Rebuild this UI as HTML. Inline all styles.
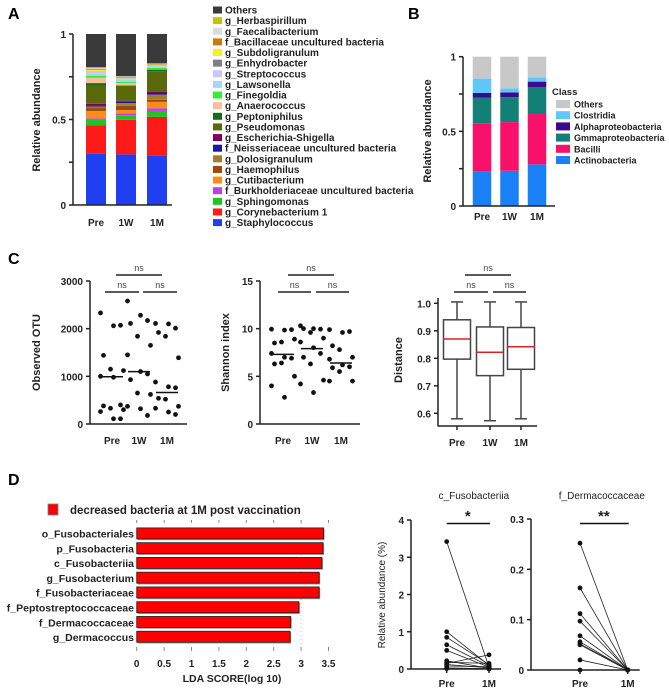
<!DOCTYPE html>
<html><head><meta charset="utf-8">
<style>
body{margin:0;background:#fff;}
svg{display:block;font-family:"Liberation Sans",Arial,sans-serif;}
.t{font-weight:bold;font-size:10px;fill:#222;}
.lg{font-weight:bold;font-size:10px;fill:#222;}
</style></head>
<body>
<svg id="fig" width="669" height="692" viewBox="0 0 669 692" xmlns="http://www.w3.org/2000/svg">
<text x="8" y="19" font-size="16" font-weight="bold">A</text>
<text x="408" y="19" font-size="16" font-weight="bold">B</text>
<text x="8" y="264" font-size="16" font-weight="bold">C</text>
<text x="8" y="485" font-size="16" font-weight="bold">D</text>
</svg>
<script>
// ---------- Panel A data ----------
const aGroups = ["Pre","1W","1M"];
const aTaxa = ["g_Staphylococcus","g_Corynebacterium 1","g_Sphingomonas","f_Burkholderiaceae uncultured bacteria","g_Cutibacterium","g_Haemophilus","g_Dolosigranulum","f_Neisseriaceae uncultured bacteria","g_Escherichia-Shigella","g_Pseudomonas","g_Peptoniphilus","g_Anaerococcus","g_Finegoldia","g_Lawsonella","g_Streptococcus","g_Enhydrobacter","g_Subdoligranulum","f_Bacillaceae uncultured bacteria","g_Faecalibacterium","g_Herbaspirillum","Others"];
const aColors = ["#1f3ff0","#ff1a1a","#22c322","#c040e0","#ff8c1a","#9b4a0a","#a87a30","#1a1a9a","#800060","#5a6a0a","#1a6a1a","#f5c09a","#33ee33","#a8d4f8","#c8c8f8","#808080","#f8f020","#d07810","#dcdcdc","#c8c010","#3a3a3a"];
const aPre = [0.300,0.167,0.031,0.009,0.043,0.017,0.009,0.008,0.008,0.107,0.014,0.031,0.012,0.012,0.012,0.002,0.009,0.006,0.008,0.000,0.195];
const a1W  = [0.296,0.202,0.027,0.011,0.019,0.025,0.016,0.008,0.006,0.088,0.002,0.013,0.008,0.012,0.006,0.002,0.004,0.004,0.004,0.000,0.247];
const a1M  = [0.287,0.228,0.035,0.016,0.037,0.012,0.030,0.010,0.008,0.119,0.010,0.002,0.008,0.010,0.006,0.002,0.002,0.004,0.002,0.000,0.172];
const aTicks = ["0","0.5","1"];
// ---------- Panel B data ----------
const bClasses = ["Actinobacteria","Bacilli","Gmmaproteobacteria","Alphaproteobacteria","Clostridia","Others"];
const bColors = ["#1a80f8","#f8106a","#138078","#3a0a8a","#5fc8f8","#c8c8c8"];
const bPre = [0.230,0.321,0.174,0.032,0.096,0.147];
const b1W  = [0.236,0.326,0.167,0.032,0.027,0.212];
const b1M  = [0.279,0.337,0.179,0.038,0.029,0.138];
// ---------- Panel C data ----------
const cGroups = ["Pre","1W","1M"];
const otuPre = [2330,2060,2070,1440,1150,1120,1000,980,400,380,330,300,260,110,110];
const otu1W  = [2580,2280,2170,2110,1840,1650,1450,1100,1050,930,650,620,370,320,180];
const otu1M  = [2110,2100,2010,1920,1840,1390,880,780,760,540,520,370,330,250,200];
const otuMed = [990,1100,660];
const otuTicks = [0,1000,2000,3000];
const shPre = [9.95,9.85,9.9,8.5,8.6,8.9,7.4,7.0,6.9,6.3,6.4,5.0,4.0,2.8];
const sh1W  = [10.3,10.0,9.95,10.0,9.6,9.0,8.6,8.0,7.4,7.0,6.3,4.6,4.2,3.3];
const sh1M  = [9.9,9.6,9.7,8.2,7.8,7.0,6.8,6.2,6.0,5.9,5.5,4.5,4.5];
const shMed = [7.3,7.9,6.4];
const shTicks = [0,5,10,15];
const dMin = [0.580,0.573,0.580];
const dQ1  = [0.797,0.737,0.760];
const dMed = [0.870,0.822,0.842];
const dQ3  = [0.940,0.914,0.912];
const dMax = [1.005,1.005,1.005];
const dTicks = ["0.6","0.7","0.8","0.9","1.0"];
// ---------- Panel D data ----------
const ldaNames = ["o_Fusobacteriales","p_Fusobacteria","c_Fusobacteriia","g_Fusobacterium","f_Fusobacteriaceae","f_Peptostreptococcaceae","f_Dermacoccaceae","g_Dermacoccus"];
const ldaScores = [3.41,3.40,3.38,3.33,3.33,2.96,2.81,2.80];
const ldaTicks = ["0","0.5","1","1.5","2","2.5","3","3.5"];
const fusoPre = [3.42,1.00,0.85,0.65,0.50,0.22,0.18,0.15,0.12,0.08,0.03,0.01];
const fuso1M  = [0.05,0.10,0.12,0.08,0.05,0.02,0.15,0.38,0.03,0.06,0.01,0.00];
const fusoTicks = [0,1,2,3,4];
const dermPre = [0.252,0.163,0.112,0.097,0.068,0.056,0.052,0.050,0.020,0.000];
const derm1M  = [0,0,0,0,0,0,0,0,0,0];
const dermTicks = ["0","0.1","0.2","0.3"];

const svg = document.getElementById('fig');
const NS = "http://www.w3.org/2000/svg";
function mk(tag, at, parent){
  const e = document.createElementNS(NS, tag);
  for (const k in at) e.setAttribute(k, at[k]);
  (parent||svg).appendChild(e);
  return e;
}
function txt(x,y,s,cls,anchor,extra){
  const e = mk('text',{x:x,y:y,class:cls||'t','text-anchor':anchor||'middle'});
  if(extra) for(const k in extra){
    if(k==='font-size') e.style.fontSize=extra[k]+'px';
    else if(k==='font-weight') e.style.fontWeight=extra[k];
    else if(k==='fill') e.style.fill=extra[k];
    else e.setAttribute(k,extra[k]);
  }
  e.textContent = s;
  return e;
}
function line(x1,y1,x2,y2,stroke,w){return mk('line',{x1:x1,y1:y1,x2:x2,y2:y2,stroke:stroke||'#222','stroke-width':w||1.5});}

// ===== Panel A =====
(function(){
  const y0=205,y1=34, ax=73;
  const ys=v=>y0-(y0-y1)*v;
  const xc=[96,126,157], bw=20;
  const data=[aPre,a1W,a1M];
  data.forEach((arr,gi)=>{
    let acc=0;
    arr.forEach((v,ti)=>{
      if(v<=0) return;
      const r=mk('rect',{x:xc[gi]-bw/2,y:ys(acc+v),width:bw,height:(ys(acc)-ys(acc+v)),fill:aColors[ti]});
      
      
      acc+=v;
    });
    const l=txt(xc[gi],226,aGroups[gi]);
    
    
  });
  line(ax,y1,ax,y0+0.5); line(ax,y0,172,y0);
  [0,0.25,0.5,0.75,1].forEach(v=>line(ax-4,ys(v),ax,ys(v)));
  aTicks.forEach((s,i)=>{const t=txt(ax-7,ys(i*0.5)+4,s,'t','end');
    
    });
  const yl=txt(40,120,'Relative abundance','t','middle',{transform:'rotate(-90 40 120)','font-size':'11'});
  
  
  for(let k=0;k<aTaxa.length;k++){
    const ti=aTaxa.length-1-k;
    const y=10+k*10.63;
    const r=mk('rect',{x:213,y:y-3.5,width:9,height:7,fill:aColors[ti]});
    
    
    const t=txt(225,y+3.5,aTaxa[ti],'lg','start');
    
    
  }
})();

// ===== Panel B =====
(function(){
  const y0=206,y1=56.7, ax=463;
  const ys=v=>y0-(y0-y1)*v;
  const xc=[482,509.5,537], bw=18.5;
  [bPre,b1W,b1M].forEach((arr,gi)=>{
    let acc=0;
    arr.forEach((v,ti)=>{
      const r=mk('rect',{x:xc[gi]-bw/2,y:ys(acc+v),width:bw,height:(ys(acc)-ys(acc+v)),fill:bColors[ti]});
      
      
      acc+=v;
    });
    const l=txt(xc[gi],220,aGroups[gi]);
    
    
  });
  line(ax,y1,ax,y0+0.5); line(ax,y0,555,y0);
  [0,0.25,0.5,0.75,1].forEach(v=>line(ax-4,ys(v),ax,ys(v)));
  aTicks.forEach((s,i)=>{const t=txt(ax-7,ys(i*0.5)+4,s,'t','end');
    
    });
  const yl=txt(431,131,'Relative abundance','t','middle',{transform:'rotate(-90 431 131)','font-size':'11'});
  
  
  const ct=txt(552,95,'Class','lg','start',{'font-size':'9.5'});
  
  
  for(let k=0;k<bClasses.length;k++){
    const ti=bClasses.length-1-k;
    const y=104+k*11.2;
    const r=mk('rect',{x:556,y:y-4,width:14,height:8,fill:bColors[ti]});
    
    
    const t=txt(574,y+3.5,bClasses[ti],'lg','start',{'font-size':'9'});
    
    
  }
})();

function brackets(pairs){
  pairs.forEach(p=>{
    line(p[0],p[2],p[1],p[2],'#222',1.5);
    const t=txt((p[0]+p[1])/2,p[2]-4,'ns','t','middle',{'font-weight':'normal','font-size':'9','fill':'#444'});
    
    
  });
}
function dotPlot(ax, xEnd, y0, y1, vmax, ticks, xc, series, meds, title, titleX){
  const ys=v=>y0-(y0-y1)*v/vmax;
  line(ax,y1,ax,y0+0.5); line(ax,y0,xEnd,y0);
  ticks.forEach(v=>{line(ax-4,ys(v),ax,ys(v));
    const t=txt(ax-7,ys(v)+4,String(v),'t','end');
    
    });
  series.forEach((arr,gi)=>{
    arr.forEach((v,i)=>{
      const off=((i%3)-1)*10+((i%2)?1.5:-1.5);
      const c=mk('circle',{cx:xc[gi]+off,cy:ys(v),r:2.4,fill:'#111'});
      
      
    });
    const m=line(xc[gi]-11,ys(meds[gi]),xc[gi]+11,ys(meds[gi]),'#111',1.5);
    
    
    const l=txt(xc[gi],y0+20,cGroups[gi]);
    
    
  });
  const yt=txt(titleX,(y0+y1)/2,title,'t','middle',{transform:'rotate(-90 '+titleX+' '+((y0+y1)/2)+')','font-size':'11'});
  
  
}
// ===== Panel C =====
dotPlot(90,187,424,281,3000,otuTicks,[112,139,167],[otuPre,otu1W,otu1M],otuMed,'Observed OTU',40);
brackets([[116,162,275],[105,139,292],[143,177,292]]);
dotPlot(260,360,424,281,15,shTicks,[283,312,341],[shPre,sh1W,sh1M],shMed,'Shannon index',229);
brackets([[288,334,275],[278,311,292],[316,349,292]]);
(function(){
  const ax=438, y0=426;
  const ys=v=>413.3-(v-0.6)*275;
  line(ax,298,ax,y0+0.5); line(ax,y0,537,y0);
  dTicks.forEach(s=>{const v=parseFloat(s);line(ax-4,ys(v),ax,ys(v));
    const t=txt(ax-7,ys(v)+4,s,'t','end');
    
    });
  const xc=[457,490,521], bw=27;
  xc.forEach((x,i)=>{
    const g=mk('g',{});
    
    
    mk('line',{x1:x,y1:ys(dMax[i]),x2:x,y2:ys(dQ3[i]),stroke:'#444','stroke-width':1.5},g);
    mk('line',{x1:x,y1:ys(dQ1[i]),x2:x,y2:ys(dMin[i]),stroke:'#444','stroke-width':1.5},g);
    mk('line',{x1:x-6,y1:ys(dMax[i]),x2:x+6,y2:ys(dMax[i]),stroke:'#444','stroke-width':1.5},g);
    mk('line',{x1:x-6,y1:ys(dMin[i]),x2:x+6,y2:ys(dMin[i]),stroke:'#444','stroke-width':1.5},g);
    mk('rect',{x:x-bw/2,y:ys(dQ3[i]),width:bw,height:ys(dQ1[i])-ys(dQ3[i]),fill:'#fff',stroke:'#444','stroke-width':1.5},g);
    mk('line',{x1:x-bw/2,y1:ys(dMed[i]),x2:x+bw/2,y2:ys(dMed[i]),stroke:'#e02020','stroke-width':1.5},g);
    line(x,y0,x,y0+4);
    const l=txt(x,446,cGroups[i]);
    
    
  });
  const yt=txt(402,360,'Distance','t','middle',{transform:'rotate(-90 402 360)','font-size':'11'});
  
  
  brackets([[465,511,275],[454,488,292],[493,526,292]]);
})();

// ===== Panel D LDA =====
(function(){
  const x0=136.7, per=54.8;
  const xs=v=>x0+per*v;
  const lr=mk('rect',{x:48,y:504,width:10,height:11,fill:'#ff0000',stroke:'#7080a0','stroke-width':0.8});
  
  
  const lt=txt(70,514,'decreased bacteria at 1M post vaccination','t','start',{'font-size':'11.5'});
  
  
  ldaTicks.forEach(s=>{const v=parseFloat(s);
    line(xs(v),520,xs(v),523,'#888',1); line(xs(v),647,xs(v),651,'#888',1);
    const t=txt(xs(v),667,s);
    
    });
  mk('line',{x1:xs(3),y1:523,x2:xs(3),y2:647,stroke:'#bbb','stroke-width':0.8,'stroke-dasharray':'1 3'});
  ldaNames.forEach((n,i)=>{
    const cy=533.7+i*14.76;
    mk('rect',{x:x0+1,y:cy-5,width:xs(ldaScores[i])-x0,height:11.5,fill:'#999'});
    const b=mk('rect',{x:x0,y:cy-5.8,width:xs(ldaScores[i])-x0,height:11,fill:'#ff0000',stroke:'#222','stroke-width':0.8});
    
    
    const t=txt(134,cy+4,n,'t','end',{'font-size':'10.5'});
    
    
  });
  const at=txt(232,682,'LDA SCORE(log 10)','t','middle',{'font-size':'10.5'});
  
  
})();

function paired(ax,y0,y1,vmax,ticks,labels,xPre,x1M,pre,post,title,star){
  const ys=v=>y0-(y0-y1)*v/vmax;
  line(ax,y1,ax,y0+0.5); line(ax,y0,x1M+12,y0);
  ticks.forEach((v,i)=>{line(ax-4,ys(v),ax,ys(v));
    const t=txt(ax-7,ys(v)+4,labels[i],'t','end');
    
    });
  pre.forEach((v,i)=>{
    const l=line(xPre,ys(v),x1M,ys(post[i]),'#222',0.8);
    
    
    const a=mk('circle',{cx:xPre,cy:ys(v),r:2.4,fill:'#111'});
    
    
    const b=mk('circle',{cx:x1M,cy:ys(post[i]),r:2.4,fill:'#111'});
    
    
  });
  line(xPre,y0,xPre,y0+4); line(x1M,y0,x1M,y0+4);
  [['Pre',xPre],['1M',x1M]].forEach(p=>{const t=txt(p[1],687,p[0]);
    
    });
  const tt=txt((xPre+x1M)/2+ (ax<450?6:-2),499,title,'t','middle',{'font-weight':'normal','font-size':'10'});
  
  
  line(xPre,523.5,x1M+1,523.5,'#111',1.5);
  const st=txt((xPre+x1M)/2,521,star,'t','middle',{'font-size':'15'});
  
  
}
paired(411,669,520,4,fusoTicks,fusoTicks.map(String),446.7,489,fusoPre,fuso1M,'c_Fusobacteriia','*');
paired(531,670,519,0.3,dermTicks.map(parseFloat),dermTicks,580,627.7,dermPre,derm1M,'f_Dermacoccaceae','**');
const ylab=txt(385,595,'Relative abundance (%)','t','middle',{transform:'rotate(-90 385 595)','font-weight':'normal','font-size':'10'});


</script>
</body></html>
